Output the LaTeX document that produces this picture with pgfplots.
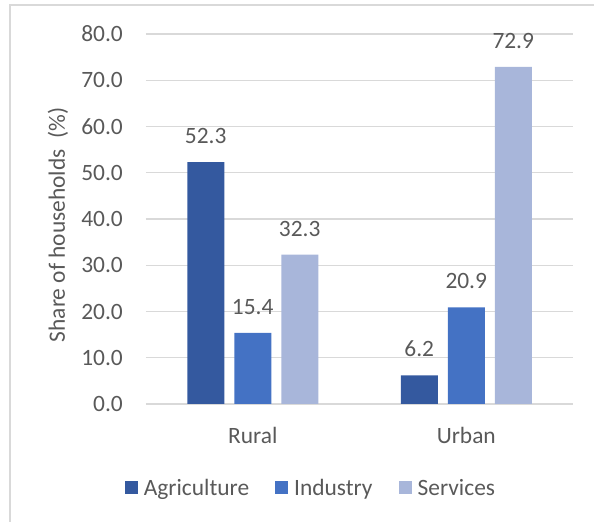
\documentclass[border=0pt]{standalone}
\usepackage{pgfplots}
\pgfplotsset{compat=1.18}
\usepackage{fontspec}
\setmainfont{Carlito}
\definecolor{agri}{HTML}{34599F}
\definecolor{indu}{HTML}{4472C4}
\definecolor{serv}{HTML}{A8B6DA}
\definecolor{txt}{HTML}{595959}
\definecolor{gridc}{HTML}{D9D9D9}
\begin{document}
\begin{tikzpicture}[x=1bp,y=1bp]
\useasboundingbox (-146,-118) rectangle (448,404);
\draw[gridc, line width=1.2bp] (-136,-130) -- (-136,399) -- (460,399);
\begin{axis}[
  at={(0,0)}, anchor=south west,
  x=213.5bp, y=4.625bp,
  xmin=-0.5, xmax=1.5, ymin=0, ymax=80,
  ybar=10bp, bar width=37bp,
  font=\fontsize{23.5}{27}\selectfont,
  every tick label/.append style={text=txt},
  xtick={0,1}, xticklabels={Rural,Urban},
  ytick={0,10,...,80},
  major tick length=0pt,
  axis lines*=left,
  y axis line style={draw=none},
  x axis line style={gridc, line width=1.5bp},
  xmajorgrids=false, ymajorgrids=true,
  major grid style={gridc, line width=1.2bp},
  yticklabel style={anchor=east, inner sep=0pt, xshift=-23bp,
    /pgf/number format/.cd, fixed, fixed zerofill, precision=1, assume math mode=true},
  xticklabel style={anchor=center, inner sep=0pt, yshift=-31bp},
  ylabel={Share of households\ \ (\%)},
  ylabel style={at={(rel axis cs:-0.206,0.484)}, anchor=center, text=txt, inner sep=0pt},
  nodes near coords,
  nodes near coords style={text=txt, anchor=south, inner sep=0pt, yshift=18bp,
    /pgf/number format/.cd, fixed, fixed zerofill, precision=1, assume math mode=true},
  legend style={at={(rel axis cs:0.384,-0.227)}, anchor=center, draw=none, fill=none,
    legend columns=3, text=txt, inner sep=0pt,
    nodes={inner sep=0pt},
    /tikz/every odd column/.append style={column sep=6bp},
    /tikz/every even column/.append style={column sep=26bp}},
  legend image code/.code={\fill[#1] (0bp,-6.5bp) rectangle (13bp,6.5bp);},
  clip=false,
]
\addplot[fill=agri, draw=none] coordinates {(0,52.3) (1,6.2)};
\addplot[fill=indu, draw=none] coordinates {(0,15.4) (1,20.9)};
\addplot[fill=serv, draw=none] coordinates {(0,32.3) (1,72.9)};
\legend{Agriculture,Industry,Services}
\end{axis}
\end{tikzpicture}
\end{document}
